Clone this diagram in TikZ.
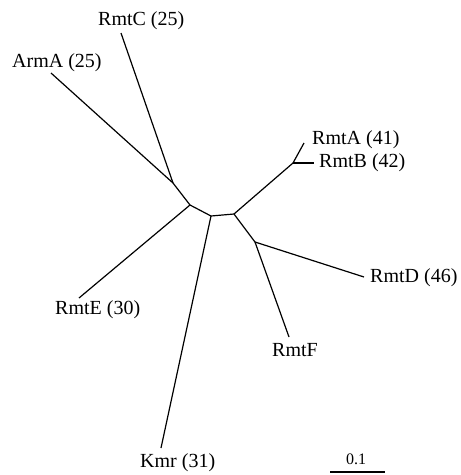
\documentclass[tikz,border=0pt]{standalone}
\usepackage{fontspec}
\setmainfont{Liberation Serif}
\begin{document}
\begin{tikzpicture}[x=1pt,y=-1pt,
  branch/.style={line width=1.2pt, black},
  lbl/.style={font=\fontsize{20}{24}\selectfont, inner sep=0pt, anchor=west},
  scalelbl/.style={font=\fontsize{16}{19}\selectfont, inner sep=0pt}]
\useasboundingbox (0,0) rectangle (461,475);
% internal nodes
\coordinate (n1) at (173,183);
\coordinate (n2) at (190,205);
\coordinate (n3) at (211,216);
\coordinate (n4) at (234,214);
\coordinate (n5) at (255,242);
\coordinate (nab) at (293,163);
% tips
\coordinate (tArmA) at (51,73);
\coordinate (tRmtC) at (121,33);
\coordinate (tRmtE) at (79,298);
\coordinate (tKmr) at (161,448);
\coordinate (tRmtF) at (289,337);
\coordinate (tRmtD) at (364,277);
\coordinate (tRmtA) at (304,143);
\coordinate (tRmtB) at (314,163);
% branches
\draw[branch] (tArmA) -- (n1);
\draw[branch] (tRmtC) -- (n1);
\draw[branch] (n1) -- (n2);
\draw[branch] (n2) -- (tRmtE);
\draw[branch] (n2) -- (n3);
\draw[branch] (n3) -- (tKmr);
\draw[branch] (n3) -- (n4);
\draw[branch] (n4) -- (nab);
\draw[branch] (nab) -- (tRmtA);
\draw[branch] (nab) -- (tRmtB);
\draw[branch] (n4) -- (n5);
\draw[branch] (n5) -- (tRmtD);
\draw[branch] (n5) -- (tRmtF);
% labels
\node[lbl] (lArmA) at (12,63) {ArmA (25)};
\node[lbl] (lRmtC) at (98,21) {RmtC (25)};
\node[lbl] (lRmtA) at (312,140) {RmtA (41)};
\node[lbl] (lRmtB) at (319,163) {RmtB (42)};
\node[lbl] (lRmtD) at (370,278) {RmtD (46)};
\node[lbl] (lRmtF) at (272,350) {RmtF};
\node[lbl] (lRmtE) at (55,310) {RmtE (30)};
\node[lbl] (lKmr) at (140,463) {Kmr (31)};
% scale bar
\coordinate (sbL) at (330,472);
\coordinate (sbR) at (385,472);
\draw[branch] (sbL) -- (sbR);
\node[scalelbl] (sb) at (356,459) {0.1};
\end{tikzpicture}
\end{document}
